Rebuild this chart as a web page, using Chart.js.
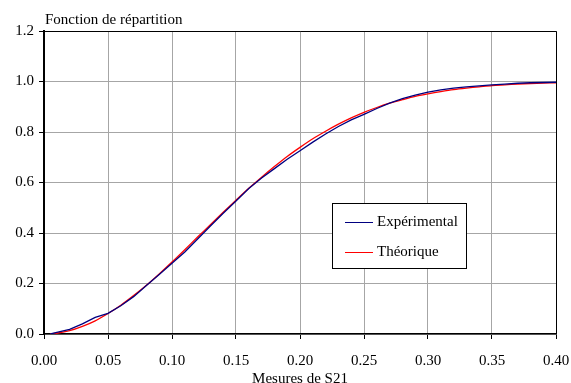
<!DOCTYPE html>
<html>
<head>
<meta charset="utf-8">
<script src="https://cdn.jsdelivr.net/npm/chart.js@4"></script>
<style>
  body { margin: 0; background: #fff; }
  #wrap { width: 571px; height: 383px; }
</style>
</head>
<body>
<div id="wrap"><canvas id="myChart" width="571" height="383"></canvas></div>
<script>
// valeurs
let mesures = [0.005, 0.01, 0.02, 0.03, 0.04, 0.05, 0.06, 0.07, 0.08, 0.09, 0.10,
  0.11, 0.12, 0.13, 0.14, 0.15, 0.16, 0.17, 0.18, 0.19, 0.20,
  0.21, 0.22, 0.23, 0.24, 0.25, 0.26, 0.27, 0.28, 0.29, 0.30,
  0.31, 0.32, 0.33, 0.34, 0.35, 0.36, 0.37, 0.38, 0.39, 0.40];
let experimental = [0.000, 0.006, 0.018, 0.040, 0.066, 0.082, 0.112, 0.148, 0.192, 0.236, 0.280,
  0.325, 0.376, 0.428, 0.478, 0.527, 0.576, 0.618, 0.655, 0.692, 0.726,
  0.760, 0.792, 0.822, 0.848, 0.870, 0.893, 0.914, 0.932, 0.946, 0.958,
  0.967, 0.974, 0.979, 0.983, 0.987, 0.990, 0.993, 0.995, 0.996, 0.997];
let theorique = [0.001, 0.003, 0.013, 0.030, 0.052, 0.081, 0.114, 0.152, 0.193, 0.238, 0.285,
  0.334, 0.384, 0.433, 0.482, 0.530, 0.577, 0.621, 0.663, 0.703, 0.739,
  0.773, 0.803, 0.831, 0.856, 0.878, 0.897, 0.914, 0.928, 0.941, 0.951,
  0.960, 0.968, 0.974, 0.979, 0.984, 0.987, 0.990, 0.992, 0.994, 0.995];

let titre = 'Fonction de répartition'
let titreX = 'Mesures de S21'
let police = '"Liberation Serif", "Times New Roman", serif'

function toPoints(xs, ys) {
  let pts = []
  for (let i = 0; i < xs.length; i++) {
    pts.push({ x: xs[i], y: ys[i] })
  }
  return pts
}

// cadre, titre et légende dessinés dans le graphique
const decor = {
  id: 'decor',
  afterDraw(chart) {
    const c = chart.ctx
    const a = chart.chartArea
    c.save()
    c.strokeStyle = '#000'
    c.lineWidth = 1
    c.beginPath()
    c.moveTo(a.left, a.top + 0.5)
    c.lineTo(a.right + 0.5, a.top + 0.5)
    c.lineTo(a.right + 0.5, a.bottom)
    c.stroke()

    c.fillStyle = '#000'
    c.font = '15px ' + police
    c.textBaseline = 'alphabetic'
    c.fillText(titre, a.left + 1, 24)

    // légende
    c.fillStyle = '#fff'
    c.fillRect(332, 203, 134, 65)
    c.strokeRect(332.5, 203.5, 134, 65)
    const ds = chart.data.datasets
    const ly = [222, 252]
    for (let i = 0; i < ds.length; i++) {
      c.strokeStyle = ds[i].borderColor
      c.beginPath()
      c.moveTo(345, ly[i] + 0.5)
      c.lineTo(373, ly[i] + 0.5)
      c.stroke()
      c.fillStyle = '#000'
      c.textBaseline = 'middle'
      c.fillText(ds[i].label, 377, ly[i])
    }
    c.restore()
  }
}

var ctx = document.getElementById('myChart').getContext('2d');
var myChart = new Chart(ctx, {
  type: 'line',
  data: {
    datasets: [{
      label: 'Expérimental',
      data: toPoints(mesures, experimental),
      borderColor: '#000080',
      borderWidth: 1.3,
      pointRadius: 0,
      tension: 0
    },
    {
      label: 'Théorique',
      data: toPoints(mesures, theorique),
      borderColor: '#ff0000',
      borderWidth: 1.3,
      pointRadius: 0,
      tension: 0.3
    }]
  },
  options: {
    responsive: false,
    animation: false,
    layout: { padding: { left: 0, right: 15, top: 31, bottom: 0 } },
    plugins: {
      legend: { display: false },
      tooltip: { enabled: false }
    },
    scales: {
      x: {
        type: 'linear',
        min: 0,
        max: 0.4,
        ticks: {
          stepSize: 0.05,
          color: '#000',
          padding: 13,
          maxRotation: 0,
          font: { family: police, size: 15 },
          callback: function (v) { return v.toFixed(2) }
        },
        grid: { color: '#a6a6a6', tickColor: '#000', tickLength: 5, lineWidth: 1 },
        border: { color: '#000', width: 1.5 },
        title: {
          display: true,
          text: titreX,
          color: '#000',
          font: { family: police, size: 15 },
          padding: { top: 0, bottom: -5 }
        },
        afterFit: function (axis) {
          axis.height = 49
          axis.paddingLeft = 0
          axis.paddingRight = 0
        }
      },
      y: {
        min: 0,
        max: 1.2,
        ticks: {
          stepSize: 0.2,
          color: '#000',
          padding: 5,
          font: { family: police, size: 15 },
          callback: function (v) { return v.toFixed(1) }
        },
        grid: { color: '#a6a6a6', tickColor: '#000', tickLength: 5, lineWidth: 1 },
        border: { color: '#000', width: 2 },
        afterFit: function (axis) { axis.width = 44 }
      }
    }
  },
  plugins: [decor]
});
</script>
</body>
</html>
